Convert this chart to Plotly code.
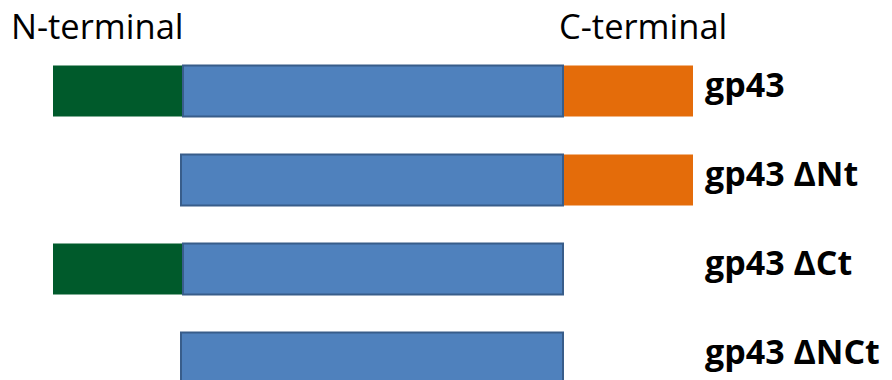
import plotly.graph_objects as go

# Constructs (rows, top to bottom)
constructs = ["gp43", "gp43 ΔNt", "gp43 ΔCt", "gp43 ΔNCt"]

# Domain segment boundaries (horizontal position units)
nterm_start = [53, None, 53, None]
nterm_end = [183, None, 183, None]
core_start = [183, 181, 183, 181]
core_end = [563, 563, 563, 563]
cterm_start = [563, 563, None, None]
cterm_end = [693, 693, None, None]

GREEN = "#005a2b"
BLUE = "#4f81bd"
BLUE_EDGE = "#385d8a"
ORANGE = "#e46c0a"

rows = list(range(len(constructs)))
fig = go.Figure()


def seg(starts, ends, color, line_color=None, line_w=0):
    ys, xs, bs = [], [], []
    for r, s, e in zip(rows, starts, ends):
        if s is None:
            continue
        ys.append(r)
        xs.append(e - s)
        bs.append(s)
    fig.add_trace(go.Bar(
        y=ys, x=xs, base=bs, orientation="h", width=0.573,
        marker=dict(color=color, line=dict(color=line_color or color, width=line_w)),
        showlegend=False, hoverinfo="skip"))


seg(nterm_start, nterm_end, GREEN)
seg(cterm_start, cterm_end, ORANGE)
seg(core_start, core_end, BLUE, BLUE_EDGE, 2)

label_x = max(e for e in cterm_end if e is not None)
for r, name in zip(rows, constructs):
    fig.add_annotation(x=label_x, y=r, xref="x", yref="y", text=name,
                       showarrow=False, xanchor="left", yanchor="middle",
                       xshift=10, yshift=7,
                       font=dict(family="Open Sans", size=34, color="black", weight="bold"))

fig.add_annotation(x=9 / 892, y=1 - 26 / 380, xref="paper", yref="paper", text="N-terminal",
                   showarrow=False, xanchor="left", yanchor="middle",
                   font=dict(family="Open Sans", size=34.5, color="black"))
fig.add_annotation(x=557 / 892, y=1 - 26 / 380, xref="paper", yref="paper", text="C-terminal",
                   showarrow=False, xanchor="left", yanchor="middle",
                   font=dict(family="Open Sans", size=34.5, color="black"))

fig.update_layout(
    width=892, height=380, margin=dict(l=0, r=0, t=0, b=0),
    plot_bgcolor="white", paper_bgcolor="white", barmode="overlay",
    xaxis=dict(range=[0, 892], visible=False, fixedrange=True),
    yaxis=dict(range=[3.247, -1.0225], visible=False, fixedrange=True),
)

fig.write_html("out.html", post_script="document.body.style.margin='0';document.body.style.overflow='hidden';",
               config={"displayModeBar": False})
